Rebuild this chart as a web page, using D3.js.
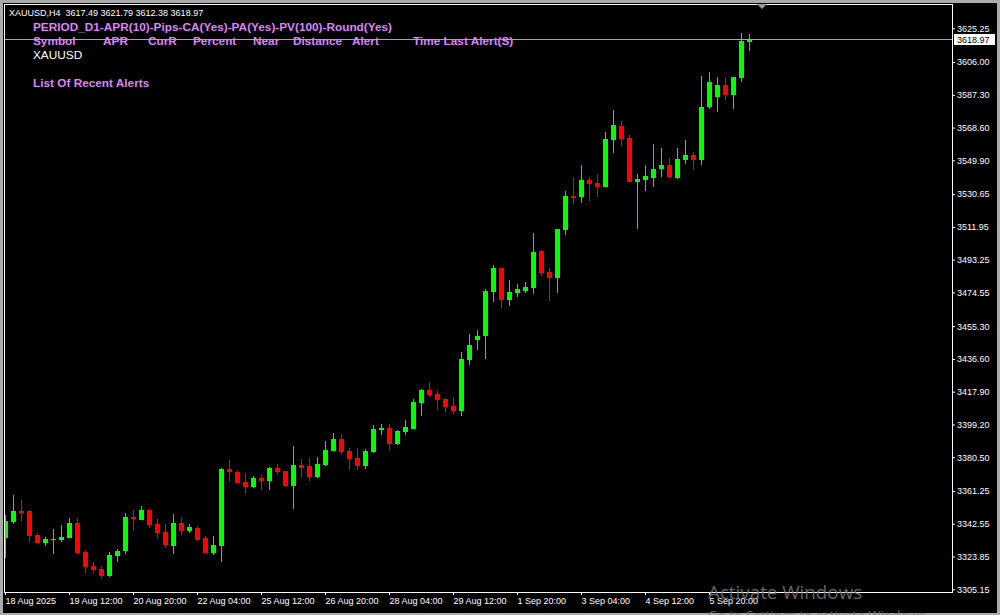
<!DOCTYPE html>
<html><head><meta charset="utf-8">
<script src="https://cdn.jsdelivr.net/npm/d3@7"></script>
<style>body{margin:0;background:#000;overflow:hidden} svg{display:block}</style>
</head><body><svg id="c" width="1000" height="615"></svg>
<script>
// ---- data (XAUUSD, H4) ----
const opens = [3334.60,3343.73,3349.83,3349.83,3336.14,3331.57,3333.46,3333.11,3334.60,3342.98,3326.61,3318.62,3316.74,3312.91,3324.33,3327.01,3346.41,3344.70,3350.40,3342.41,3337.85,3329.86,3342.98,3338.42,3340.13,3334.43,3325.87,3329.86,3373.80,3372.08,3366.38,3363.52,3368.66,3366.95,3374.37,3372.65,3364.10,3376.08,3375.51,3369.23,3376.08,3384.07,3390.91,3384.07,3380.07,3375.51,3383.50,3396.05,3397.19,3388.06,3394.91,3396.62,3411.63,3418.87,3416.59,3413.74,3409.74,3407.06,3436.16,3447.57,3449.85,3474.96,3488.48,3470.22,3474.22,3475.36,3477.07,3498.18,3486.20,3482.78,3510.16,3529.56,3528.99,3538.69,3536.98,3534.70,3561.52,3569.50,3562.66,3537.55,3538.69,3539.83,3544.97,3547.25,3539.83,3550.10,3552.96,3550.10,3580.35,3586.05,3592.90,3587.19,3596.89,3617.49];
const highs = [3347.55,3358.96,3356.11,3350.20,3337.28,3335.00,3339.56,3341.84,3345.84,3345.27,3327.58,3320.73,3318.45,3326.44,3328.15,3348.69,3350.40,3352.68,3350.97,3345.27,3342.41,3348.12,3346.41,3342.41,3341.00,3335.57,3335.57,3374.37,3378.93,3372.65,3371.51,3369.80,3370.37,3374.94,3376.65,3372.90,3386.92,3379.50,3380.07,3380.64,3389.77,3394.34,3393.77,3385.78,3385.78,3385.21,3398.90,3399.47,3399.47,3396.05,3401.75,3413.74,3419.44,3423.44,3418.30,3414.31,3414.88,3440.55,3450.82,3453.11,3476.50,3490.19,3488.60,3481.63,3479.35,3480.49,3508.45,3498.75,3488.48,3510.90,3532.42,3540.40,3547.25,3540.40,3542.12,3566.08,3578.63,3572.36,3564.37,3542.12,3547.25,3559.23,3556.95,3551.25,3556.95,3561.52,3554.67,3598.03,3600.32,3597.46,3597.46,3597.60,3622.57,3621.79];
const lows = [3323.19,3342.41,3344.13,3332.31,3331.17,3330.03,3325.47,3332.31,3334.40,3325.47,3314.63,3314.63,3311.03,3312.17,3320.90,3325.47,3338.42,3344.50,3340.13,3333.85,3328.72,3325.30,3336.14,3337.28,3332.71,3325.60,3324.73,3320.73,3366.95,3365.60,3359.53,3362.95,3361.81,3361.81,3370.37,3363.52,3350.97,3369.23,3366.95,3368.66,3375.51,3383.80,3381.78,3373.22,3373.22,3373.80,3382.92,3393.20,3384.07,3387.49,3393.20,3396.40,3404.21,3415.05,3407.63,3406.49,3405.35,3404.21,3433.31,3441.87,3436.73,3469.25,3465.83,3466.80,3471.94,3474.22,3473.65,3483.92,3469.65,3474.22,3507.31,3525.00,3525.57,3526.71,3528.99,3534.50,3554.10,3558.09,3537.30,3510.73,3532.42,3534.70,3540.40,3539.83,3539.26,3547.82,3544.40,3547.25,3579.20,3577.49,3584.34,3579.20,3594.61,3612.38];
const closes = [3344.13,3349.83,3348.69,3335.74,3331.57,3333.85,3333.85,3335.00,3342.98,3325.87,3317.88,3316.34,3312.91,3324.73,3327.01,3346.41,3345.27,3350.40,3341.84,3337.28,3330.43,3342.98,3338.42,3340.70,3333.28,3325.87,3330.43,3373.80,3372.08,3365.81,3363.52,3368.66,3366.95,3374.37,3372.08,3364.10,3376.08,3374.37,3369.23,3376.65,3384.64,3390.91,3383.50,3379.50,3375.51,3384.07,3396.62,3397.19,3388.06,3395.48,3397.76,3412.02,3418.87,3416.19,3413.34,3409.34,3407.06,3436.56,3444.55,3449.68,3475.36,3488.48,3470.39,3474.79,3476.50,3477.64,3497.61,3485.63,3482.78,3510.73,3529.56,3528.42,3538.69,3536.41,3534.70,3562.09,3570.07,3562.09,3537.55,3539.26,3540.98,3544.97,3547.25,3540.40,3550.68,3552.96,3550.10,3580.35,3594.61,3592.90,3587.19,3597.46,3618.00,3618.97];
const priceTicks = [3625.25,3606.00,3587.30,3568.60,3549.90,3530.65,3511.95,3493.25,3474.55,3455.30,3436.60,3417.90,3399.20,3380.50,3361.25,3342.55,3323.85,3305.15];
const timeTickIndex = [0,8,16,24,32,40,48,56,64,72,80,88];
const timeTickLabels = ["18 Aug 2025","19 Aug 12:00","20 Aug 20:00","22 Aug 04:00","25 Aug 12:00","26 Aug 20:00","28 Aug 04:00","29 Aug 12:00","1 Sep 20:00","3 Sep 04:00","4 Sep 12:00","5 Sep 20:00"];
const headerLine = "XAUUSD,H4  3617.49 3621.79 3612.38 3618.97";
const panelTitle = "PERIOD_D1-APR(10)-Pips-CA(Yes)-PA(Yes)-PV(100)-Round(Yes)";
const panelColumns = ["Symbol","APR","CurR","Percent","Near","Distance","Alert","Time Last Alert(S)"];
const panelSymbols = ["XAUUSD"];
const panelFooter = "List Of Recent Alerts";
const lastPrice = 3618.97;

// ---- drawing ----
const svg = d3.select("#c");
const W = 1000, H = 615;
const plot = {l:4, t:4, r:952, b:592};
const FONT = "'Liberation Sans', Arial, sans-serif";
const UP = "#00ff00", DN = "#ff0000", PURPLE = "#da86fa";

svg.append("rect").attr("width",W).attr("height",H).attr("fill","#ababab");
svg.append("rect").attr("x",3).attr("y",3).attr("width",994).attr("height",610).attr("fill","#000");

const xs = d3.scaleLinear().domain([0, opens.length-1]).range([5, 5 + 8*(opens.length-1)]);
const ys = d3.scaleLinear().domain([3305.15, 3625.25]).range([589.3, 28.3]);

svg.append("clipPath").attr("id","pc").append("rect")
  .attr("x",plot.l+1).attr("y",plot.t+1).attr("width",plot.r-plot.l-1).attr("height",plot.b-plot.t-1);

const candles = svg.append("g").attr("clip-path","url(#pc)");
const idx = d3.range(opens.length);
const col = i => closes[i] >= opens[i] ? UP : DN;
candles.selectAll("rect.wick").data(idx).join("rect").attr("class","wick")
  .attr("x", i => xs(i)).attr("width",1)
  .attr("y", i => Math.round(ys(highs[i])))
  .attr("height", i => Math.max(1, Math.round(ys(lows[i])) - Math.round(ys(highs[i]))))
  .attr("fill", col);
candles.selectAll("rect.body").data(idx).join("rect").attr("class","body")
  .attr("x", i => xs(i) - 2).attr("width",5)
  .attr("y", i => Math.round(ys(Math.max(opens[i],closes[i]))))
  .attr("height", i => Math.max(1, Math.round(ys(Math.min(opens[i],closes[i]))) - Math.round(ys(Math.max(opens[i],closes[i])))))
  .attr("fill", col);

// current price line
const yl = Math.round(ys(lastPrice)) + 0.5;
svg.append("line").attr("x1",plot.l).attr("x2",953).attr("y1",yl).attr("y2",yl)
  .attr("stroke","#a4a8ae").attr("stroke-width",1);

// frame
svg.append("rect").attr("x",plot.l+0.5).attr("y",plot.t+0.5)
  .attr("width",plot.r-plot.l).attr("height",plot.b-plot.t)
  .attr("fill","none").attr("stroke","#fff").attr("stroke-width",1);

// right axis
const ya = svg.append("g").attr("transform",`translate(${plot.r},0)`)
  .call(d3.axisRight(ys).tickValues(priceTicks).tickFormat(d3.format(".2f")).tickSize(3).tickPadding(2).tickSizeOuter(0));
ya.select(".domain").remove();
ya.selectAll("line").attr("stroke","#fff");
ya.selectAll("text").attr("fill","#fff").style("font-family",FONT).style("font-size","9px");

// last price box
svg.append("rect").attr("x",954).attr("y",yl-5.5).attr("width",41).attr("height",11).attr("fill","#fff");
svg.append("text").attr("x",957).attr("y",yl+3.5).text(d3.format(".2f")(lastPrice))
  .attr("fill","#000").style("font-family",FONT).style("font-size","9px");

// bottom axis
const xa = svg.append("g").attr("transform",`translate(0,${plot.b})`)
  .call(d3.axisBottom(xs).tickValues(timeTickIndex).tickFormat((d,i)=>timeTickLabels[i]).tickSize(3).tickPadding(3).tickSizeOuter(0));
xa.select(".domain").remove();
xa.selectAll("line").attr("stroke","#fff");
xa.selectAll("text").attr("fill","#fff").attr("text-anchor","start").attr("x",0)
  .style("font-family",FONT).style("font-size","9px");

// shift marker
svg.append("path").attr("d","M757,4 L767,4 L762,9 Z").attr("fill","#9a9a9a");

// header texts
svg.append("text").attr("x",9).attr("y",16).text(headerLine)
  .attr("fill","#fff").style("font-family",FONT).style("font-size","9px").attr("xml:space","preserve").style("white-space","pre");
svg.append("text").attr("x",33).attr("y",31).text(panelTitle)
  .attr("fill",PURPLE).style("font-family",FONT).style("font-size","11.8px").style("font-weight","bold");
const colX = [33,103,148,193,253,293,352,413];
svg.append("g").selectAll("text").data(panelColumns).join("text")
  .attr("x",(d,i)=>colX[i]).attr("y",45).text(d=>d)
  .attr("fill",PURPLE).style("font-family",FONT).style("font-size","11.8px").style("font-weight","bold");
svg.append("g").selectAll("text").data(panelSymbols).join("text")
  .attr("x",33).attr("y",(d,i)=>59+i*14).text(d=>d)
  .attr("fill","#fff").style("font-family",FONT).style("font-size","11.8px");
svg.append("text").attr("x",33).attr("y",87).text(panelFooter)
  .attr("fill",PURPLE).style("font-family",FONT).style("font-size","11.8px").style("font-weight","bold");

// OS watermark overlay
svg.append("text").attr("x",708).attr("y",599).text("Activate Windows")
  .attr("fill","#7a7a7a").attr("fill-opacity",0.85).style("font-family","'Open Sans', 'Noto Sans', sans-serif").style("font-size","18.8px");
svg.append("text").attr("x",708).attr("y",620).text("Go to Settings to activate Windows.")
  .attr("fill","#7a7a7a").attr("fill-opacity",0.85).style("font-family","'Open Sans', 'Noto Sans', sans-serif").style("font-size","13.5px");
</script></body></html>
